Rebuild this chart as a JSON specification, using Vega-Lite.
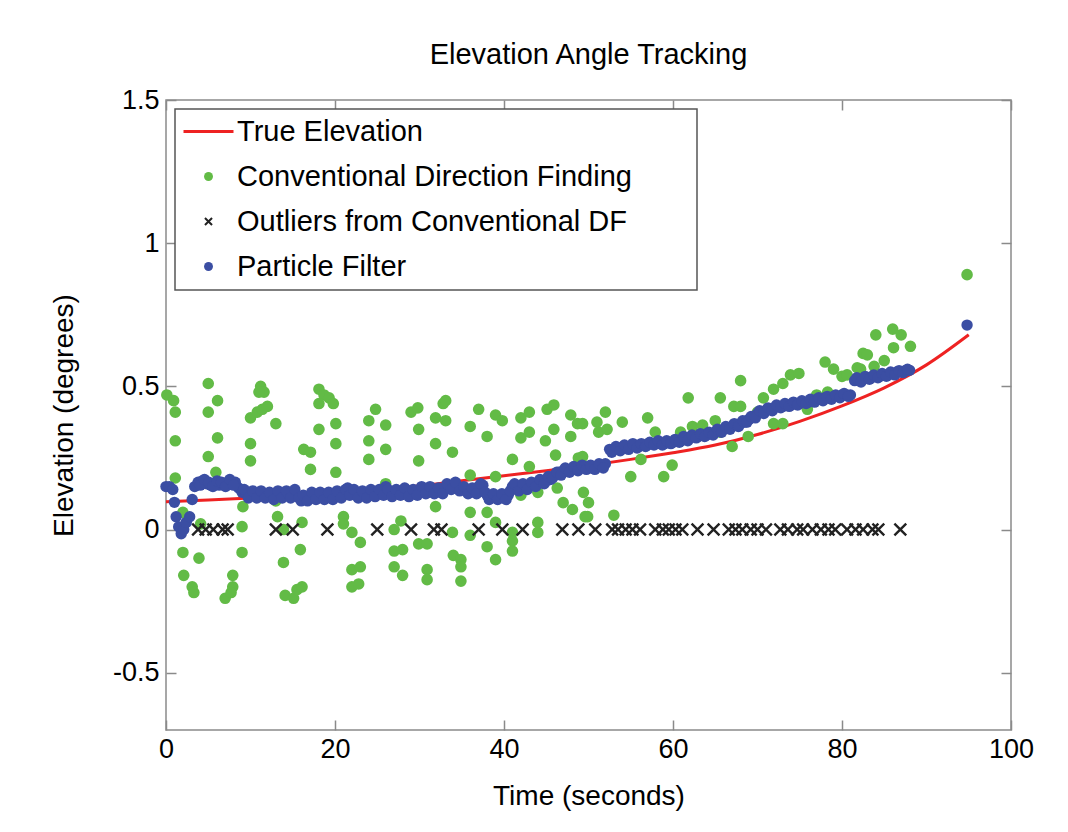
{
  "$schema": "https://vega.github.io/schema/vega-lite/v6.json",
  "width": 845,
  "height": 630,
  "autosize": {"type": "none"},
  "padding": {"left": 166, "top": 100, "right": 57, "bottom": 102},
  "background": "white",
  "title": {"text": "Elevation Angle Tracking", "font": "Liberation Sans", "fontSize": 29, "fontWeight": "normal", "color": "black", "offset": 16},
  "config": {
    "view": {"stroke": "#8a8a8a", "strokeWidth": 1.5},
    "font": "Liberation Sans",
    "legend": {
      "orient": "top-left", "offset": 9, "padding": 8, "strokeColor": "#555555", "strokeWidth": 1.5, "fillColor": "white",
      "labelFont": "Liberation Sans", "labelFontSize": 29, "labelColor": "black", "labelOffset": 14, "symbolOffset": 11,
      "rowPadding": 15, "labelLimit": 0
    }
  },
  "datasets": {
    "truth": [
      {"t": 0, "y": 0.097}, {"t": 5, "y": 0.103}, {"t": 10, "y": 0.11}, {"t": 15, "y": 0.118}, {"t": 20, "y": 0.127},
      {"t": 25, "y": 0.139}, {"t": 30, "y": 0.153}, {"t": 35, "y": 0.17}, {"t": 40, "y": 0.188}, {"t": 45, "y": 0.205},
      {"t": 50, "y": 0.224}, {"t": 55, "y": 0.245}, {"t": 60, "y": 0.268}, {"t": 65, "y": 0.295}, {"t": 70, "y": 0.332},
      {"t": 75, "y": 0.378}, {"t": 80, "y": 0.432}, {"t": 85, "y": 0.495}, {"t": 90, "y": 0.575}, {"t": 95, "y": 0.68}
    ],
    "cdf": [
      {"t": 0.1, "y": 0.47}, {"t": 0.9, "y": 0.45}, {"t": 1.1, "y": 0.41}, {"t": 1.1, "y": 0.31}, {"t": 1.1, "y": 0.18},
      {"t": 2.0, "y": 0.06}, {"t": 2.0, "y": -0.08}, {"t": 2.1, "y": -0.16}, {"t": 3.1, "y": -0.2}, {"t": 3.3, "y": -0.22},
      {"t": 4.1, "y": 0.02}, {"t": 3.9, "y": -0.1}, {"t": 5.0, "y": 0.51}, {"t": 6.1, "y": 0.45}, {"t": 5.0, "y": 0.41},
      {"t": 6.1, "y": 0.32}, {"t": 5.0, "y": 0.255}, {"t": 5.9, "y": 0.2}, {"t": 7.0, "y": -0.24}, {"t": 7.9, "y": -0.16},
      {"t": 7.9, "y": -0.2}, {"t": 7.7, "y": -0.22}, {"t": 9.0, "y": 0.01}, {"t": 9.0, "y": -0.08}, {"t": 9.1, "y": 0.08},
      {"t": 10.0, "y": 0.39}, {"t": 10.8, "y": 0.41}, {"t": 11.4, "y": 0.42}, {"t": 12.0, "y": 0.43}, {"t": 11.2, "y": 0.5},
      {"t": 11.6, "y": 0.48}, {"t": 11.0, "y": 0.48}, {"t": 13.0, "y": 0.37}, {"t": 10.0, "y": 0.3}, {"t": 10.0, "y": 0.24},
      {"t": 13.0, "y": 0.1}, {"t": 13.2, "y": 0.045}, {"t": 13.9, "y": 0.0}, {"t": 13.9, "y": -0.115}, {"t": 14.1, "y": -0.23},
      {"t": 15.1, "y": -0.24}, {"t": 15.5, "y": -0.21}, {"t": 15.9, "y": -0.07}, {"t": 16.3, "y": 0.28}, {"t": 18.1, "y": 0.49},
      {"t": 18.7, "y": 0.47}, {"t": 19.3, "y": 0.46}, {"t": 18.1, "y": 0.44}, {"t": 19.8, "y": 0.44}, {"t": 18.1, "y": 0.35},
      {"t": 20.1, "y": 0.37}, {"t": 17.1, "y": 0.27}, {"t": 20.1, "y": 0.3}, {"t": 17.1, "y": 0.21}, {"t": 20.1, "y": 0.2},
      {"t": 16.1, "y": 0.025}, {"t": 16.1, "y": -0.2}, {"t": 21.0, "y": 0.045}, {"t": 21.0, "y": 0.02}, {"t": 22.0, "y": -0.01},
      {"t": 23.0, "y": -0.045}, {"t": 22.0, "y": -0.14}, {"t": 23.0, "y": -0.13}, {"t": 22.0, "y": -0.2}, {"t": 22.8, "y": -0.19},
      {"t": 24.0, "y": 0.38}, {"t": 24.8, "y": 0.42}, {"t": 26.0, "y": 0.365}, {"t": 24.0, "y": 0.31}, {"t": 26.0, "y": 0.28},
      {"t": 24.0, "y": 0.245}, {"t": 26.0, "y": 0.16}, {"t": 27.8, "y": 0.03}, {"t": 27.0, "y": 0.0}, {"t": 27.0, "y": -0.075},
      {"t": 28.0, "y": -0.07}, {"t": 27.0, "y": -0.13}, {"t": 28.0, "y": -0.16}, {"t": 29.0, "y": 0.41}, {"t": 29.8, "y": 0.425},
      {"t": 29.9, "y": 0.35}, {"t": 29.9, "y": 0.24}, {"t": 29.9, "y": -0.05}, {"t": 30.9, "y": -0.05}, {"t": 30.9, "y": -0.14},
      {"t": 30.9, "y": -0.175}, {"t": 31.9, "y": 0.39}, {"t": 31.9, "y": 0.3}, {"t": 31.9, "y": 0.08}, {"t": 32.8, "y": 0.44},
      {"t": 33.1, "y": 0.45}, {"t": 33.1, "y": 0.38}, {"t": 33.9, "y": 0.27}, {"t": 36.0, "y": 0.36}, {"t": 37.0, "y": 0.42},
      {"t": 38.0, "y": 0.325}, {"t": 39.0, "y": 0.4}, {"t": 39.8, "y": 0.38}, {"t": 41.0, "y": 0.245}, {"t": 42.0, "y": 0.39},
      {"t": 43.0, "y": 0.41}, {"t": 42.0, "y": 0.32}, {"t": 43.0, "y": 0.34}, {"t": 43.0, "y": 0.22}, {"t": 45.1, "y": 0.42},
      {"t": 45.9, "y": 0.435}, {"t": 45.9, "y": 0.35}, {"t": 44.9, "y": 0.31}, {"t": 46.1, "y": 0.26}, {"t": 47.9, "y": 0.4},
      {"t": 48.7, "y": 0.37}, {"t": 47.9, "y": 0.325}, {"t": 48.8, "y": 0.25}, {"t": 36.0, "y": 0.19}, {"t": 39.0, "y": 0.185},
      {"t": 42.0, "y": 0.12}, {"t": 44.0, "y": 0.13}, {"t": 46.3, "y": 0.145}, {"t": 47.0, "y": 0.094}, {"t": 36.0, "y": 0.06},
      {"t": 38.0, "y": 0.06}, {"t": 39.0, "y": 0.025}, {"t": 33.9, "y": -0.01}, {"t": 36.0, "y": -0.02}, {"t": 41.0, "y": -0.01},
      {"t": 41.0, "y": -0.04}, {"t": 44.0, "y": 0.025}, {"t": 44.0, "y": -0.01}, {"t": 38.0, "y": -0.06}, {"t": 41.0, "y": -0.075},
      {"t": 39.0, "y": -0.105}, {"t": 34.0, "y": -0.09}, {"t": 34.9, "y": -0.105}, {"t": 34.9, "y": -0.13}, {"t": 34.9, "y": -0.18},
      {"t": 48.1, "y": 0.07}, {"t": 49.6, "y": 0.045}, {"t": 49.3, "y": 0.37}, {"t": 51.0, "y": 0.375}, {"t": 51.2, "y": 0.34},
      {"t": 52.0, "y": 0.41}, {"t": 52.2, "y": 0.35}, {"t": 54.0, "y": 0.375}, {"t": 57.0, "y": 0.39}, {"t": 57.9, "y": 0.34},
      {"t": 61.8, "y": 0.46}, {"t": 60.9, "y": 0.34}, {"t": 62.3, "y": 0.36}, {"t": 63.5, "y": 0.365}, {"t": 65.0, "y": 0.38},
      {"t": 65.6, "y": 0.46}, {"t": 49.3, "y": 0.255}, {"t": 56.2, "y": 0.245}, {"t": 59.9, "y": 0.225}, {"t": 55.0, "y": 0.185},
      {"t": 58.9, "y": 0.185}, {"t": 49.4, "y": 0.13}, {"t": 50.0, "y": 0.094}, {"t": 49.9, "y": 0.045}, {"t": 53.0, "y": 0.05},
      {"t": 68.0, "y": 0.52}, {"t": 67.2, "y": 0.43}, {"t": 68.0, "y": 0.43}, {"t": 71.9, "y": 0.49}, {"t": 73.0, "y": 0.51},
      {"t": 73.9, "y": 0.54}, {"t": 74.9, "y": 0.545}, {"t": 70.7, "y": 0.46}, {"t": 78.0, "y": 0.585}, {"t": 79.0, "y": 0.56},
      {"t": 80.0, "y": 0.535}, {"t": 80.6, "y": 0.54}, {"t": 81.8, "y": 0.565}, {"t": 82.5, "y": 0.615}, {"t": 70.0, "y": 0.41},
      {"t": 71.9, "y": 0.37}, {"t": 73.0, "y": 0.37}, {"t": 75.9, "y": 0.42}, {"t": 77.0, "y": 0.47}, {"t": 78.3, "y": 0.48},
      {"t": 67.0, "y": 0.29}, {"t": 68.9, "y": 0.325}, {"t": 65.6, "y": 0.34}, {"t": 84.0, "y": 0.68}, {"t": 86.0, "y": 0.7},
      {"t": 87.0, "y": 0.68}, {"t": 88.1, "y": 0.64}, {"t": 83.0, "y": 0.61}, {"t": 82.2, "y": 0.56}, {"t": 85.0, "y": 0.59},
      {"t": 86.1, "y": 0.635}, {"t": 83.8, "y": 0.57}, {"t": 94.8, "y": 0.89}
    ],
    "outliers": [
      {"t": 3.8, "y": 0}, {"t": 4.7, "y": 0}, {"t": 5.6, "y": 0}, {"t": 6.7, "y": 0}, {"t": 7.3, "y": 0}, {"t": 13.0, "y": 0},
      {"t": 15.0, "y": 0}, {"t": 19.1, "y": 0}, {"t": 25.0, "y": 0}, {"t": 29.0, "y": 0}, {"t": 31.7, "y": 0}, {"t": 32.6, "y": 0},
      {"t": 37.0, "y": 0}, {"t": 39.8, "y": 0}, {"t": 42.2, "y": 0}, {"t": 46.9, "y": 0}, {"t": 48.8, "y": 0}, {"t": 50.8, "y": 0},
      {"t": 52.8, "y": 0}, {"t": 53.5, "y": 0}, {"t": 54.4, "y": 0}, {"t": 55.2, "y": 0}, {"t": 56.1, "y": 0}, {"t": 57.9, "y": 0},
      {"t": 58.8, "y": 0}, {"t": 59.5, "y": 0}, {"t": 60.3, "y": 0}, {"t": 61.1, "y": 0}, {"t": 62.9, "y": 0}, {"t": 64.8, "y": 0},
      {"t": 66.6, "y": 0}, {"t": 67.4, "y": 0}, {"t": 68.2, "y": 0}, {"t": 69.2, "y": 0}, {"t": 70.0, "y": 0}, {"t": 71.0, "y": 0},
      {"t": 72.7, "y": 0}, {"t": 73.6, "y": 0}, {"t": 74.7, "y": 0}, {"t": 75.4, "y": 0}, {"t": 76.5, "y": 0}, {"t": 77.5, "y": 0},
      {"t": 78.4, "y": 0}, {"t": 79.2, "y": 0}, {"t": 80.6, "y": 0}, {"t": 81.6, "y": 0}, {"t": 82.5, "y": 0}, {"t": 83.6, "y": 0},
      {"t": 84.3, "y": 0}, {"t": 86.9, "y": 0}
    ],
    "pf": [
      {"t": 0, "y": 0.15}, {"t": 0.4, "y": 0.15}, {"t": 0.8, "y": 0.14}, {"t": 1.0, "y": 0.095}, {"t": 1.2, "y": 0.045},
      {"t": 1.5, "y": 0.01}, {"t": 1.8, "y": -0.015}, {"t": 2.1, "y": 0.0}, {"t": 2.4, "y": 0.025}, {"t": 2.8, "y": 0.045},
      {"t": 3.1, "y": 0.105}, {"t": 3.4, "y": 0.15}, {"t": 3.8, "y": 0.165}, {"t": 4.3, "y": 0.17}, {"t": 4.8, "y": 0.16},
      {"t": 5.3, "y": 0.155}, {"t": 5.8, "y": 0.16}, {"t": 6.3, "y": 0.155}, {"t": 6.8, "y": 0.16}, {"t": 7.3, "y": 0.165},
      {"t": 7.8, "y": 0.16}, {"t": 8.2, "y": 0.165}, {"t": 8.6, "y": 0.145}, {"t": 9.0, "y": 0.13}, {"t": 9.5, "y": 0.125},
      {"t": 10, "y": 0.12}, {"t": 10.5, "y": 0.125}, {"t": 11, "y": 0.12}, {"t": 11.5, "y": 0.125}, {"t": 12, "y": 0.12},
      {"t": 12.5, "y": 0.115}, {"t": 13, "y": 0.125}, {"t": 13.5, "y": 0.12}, {"t": 14, "y": 0.125}, {"t": 14.5, "y": 0.12},
      {"t": 15, "y": 0.13}, {"t": 15.5, "y": 0.12}, {"t": 16, "y": 0.1}, {"t": 16.5, "y": 0.11}, {"t": 17, "y": 0.115},
      {"t": 17.5, "y": 0.12}, {"t": 18, "y": 0.115}, {"t": 18.5, "y": 0.12}, {"t": 19, "y": 0.12}, {"t": 19.5, "y": 0.115},
      {"t": 20, "y": 0.12}, {"t": 20.5, "y": 0.125}, {"t": 21, "y": 0.13}, {"t": 21.5, "y": 0.145}, {"t": 22, "y": 0.13},
      {"t": 22.5, "y": 0.12}, {"t": 23, "y": 0.125}, {"t": 23.5, "y": 0.12}, {"t": 24, "y": 0.125}, {"t": 24.5, "y": 0.13},
      {"t": 25, "y": 0.125}, {"t": 25.5, "y": 0.13}, {"t": 26, "y": 0.15}, {"t": 26.5, "y": 0.13}, {"t": 27, "y": 0.125},
      {"t": 27.5, "y": 0.13}, {"t": 28, "y": 0.135}, {"t": 28.5, "y": 0.13}, {"t": 29, "y": 0.125}, {"t": 29.5, "y": 0.13},
      {"t": 30, "y": 0.135}, {"t": 30.5, "y": 0.14}, {"t": 31, "y": 0.13}, {"t": 31.5, "y": 0.14}, {"t": 32, "y": 0.13},
      {"t": 32.5, "y": 0.135}, {"t": 33, "y": 0.14}, {"t": 33.5, "y": 0.15}, {"t": 34, "y": 0.155}, {"t": 34.5, "y": 0.15},
      {"t": 35, "y": 0.14}, {"t": 35.5, "y": 0.135}, {"t": 36, "y": 0.13}, {"t": 36.5, "y": 0.135}, {"t": 37, "y": 0.15},
      {"t": 37.5, "y": 0.155}, {"t": 38, "y": 0.12}, {"t": 38.5, "y": 0.115}, {"t": 39, "y": 0.115}, {"t": 39.5, "y": 0.115},
      {"t": 40, "y": 0.11}, {"t": 40.5, "y": 0.12}, {"t": 41, "y": 0.15}, {"t": 41.5, "y": 0.145}, {"t": 42, "y": 0.145},
      {"t": 42.5, "y": 0.15}, {"t": 43, "y": 0.155}, {"t": 43.5, "y": 0.16}, {"t": 44, "y": 0.165}, {"t": 44.5, "y": 0.17},
      {"t": 45, "y": 0.17}, {"t": 45.5, "y": 0.175}, {"t": 46, "y": 0.19}, {"t": 46.5, "y": 0.2}, {"t": 47, "y": 0.205},
      {"t": 47.5, "y": 0.21}, {"t": 48, "y": 0.21}, {"t": 48.5, "y": 0.215}, {"t": 49, "y": 0.215}, {"t": 49.5, "y": 0.22},
      {"t": 50, "y": 0.215}, {"t": 50.5, "y": 0.215}, {"t": 51, "y": 0.22}, {"t": 51.5, "y": 0.225}, {"t": 52, "y": 0.23},
      {"t": 52.5, "y": 0.28}, {"t": 53, "y": 0.28}, {"t": 53.5, "y": 0.285}, {"t": 54, "y": 0.285}, {"t": 54.5, "y": 0.285},
      {"t": 55, "y": 0.29}, {"t": 55.5, "y": 0.29}, {"t": 56, "y": 0.29}, {"t": 56.5, "y": 0.295}, {"t": 57, "y": 0.295},
      {"t": 57.5, "y": 0.3}, {"t": 58, "y": 0.3}, {"t": 58.5, "y": 0.3}, {"t": 59, "y": 0.3}, {"t": 59.5, "y": 0.305},
      {"t": 60, "y": 0.305}, {"t": 60.5, "y": 0.31}, {"t": 61, "y": 0.31}, {"t": 61.5, "y": 0.32}, {"t": 62, "y": 0.32},
      {"t": 62.5, "y": 0.325}, {"t": 63, "y": 0.325}, {"t": 63.5, "y": 0.33}, {"t": 64, "y": 0.33}, {"t": 64.5, "y": 0.335},
      {"t": 65, "y": 0.34}, {"t": 65.5, "y": 0.345}, {"t": 66, "y": 0.35}, {"t": 66.5, "y": 0.355}, {"t": 67, "y": 0.36},
      {"t": 67.5, "y": 0.365}, {"t": 68, "y": 0.37}, {"t": 68.5, "y": 0.375}, {"t": 69, "y": 0.385}, {"t": 69.5, "y": 0.395},
      {"t": 70, "y": 0.405}, {"t": 70.5, "y": 0.41}, {"t": 71, "y": 0.415}, {"t": 71.5, "y": 0.42}, {"t": 72, "y": 0.425},
      {"t": 72.5, "y": 0.43}, {"t": 73, "y": 0.43}, {"t": 73.5, "y": 0.435}, {"t": 74, "y": 0.435}, {"t": 74.5, "y": 0.44},
      {"t": 75, "y": 0.44}, {"t": 75.5, "y": 0.445}, {"t": 76, "y": 0.445}, {"t": 76.5, "y": 0.45}, {"t": 77, "y": 0.455},
      {"t": 77.5, "y": 0.455}, {"t": 78, "y": 0.46}, {"t": 78.5, "y": 0.46}, {"t": 79, "y": 0.465}, {"t": 79.5, "y": 0.465},
      {"t": 80, "y": 0.47}, {"t": 80.5, "y": 0.47}, {"t": 81, "y": 0.47}, {"t": 81.5, "y": 0.52}, {"t": 82, "y": 0.52},
      {"t": 82.5, "y": 0.525}, {"t": 83, "y": 0.53}, {"t": 83.5, "y": 0.53}, {"t": 84, "y": 0.535}, {"t": 84.5, "y": 0.535},
      {"t": 85, "y": 0.54}, {"t": 85.5, "y": 0.54}, {"t": 86, "y": 0.545}, {"t": 86.5, "y": 0.55}, {"t": 87, "y": 0.55},
      {"t": 87.5, "y": 0.555}, {"t": 88, "y": 0.556}, {"t": 94.8, "y": 0.714},
      {"t": 4.05, "y": 0.155}, {"t": 4.55, "y": 0.175}, {"t": 5.05, "y": 0.165}, {"t": 5.55, "y": 0.15}, {"t": 6.05, "y": 0.17},
      {"t": 6.55, "y": 0.165}, {"t": 7.05, "y": 0.15}, {"t": 7.55, "y": 0.175}, {"t": 8.0, "y": 0.155},
      {"t": 9.25, "y": 0.14}, {"t": 9.75, "y": 0.11}, {"t": 10.25, "y": 0.135}, {"t": 10.75, "y": 0.11}, {"t": 11.25, "y": 0.135},
      {"t": 11.75, "y": 0.11}, {"t": 12.25, "y": 0.13}, {"t": 12.75, "y": 0.105}, {"t": 13.25, "y": 0.135}, {"t": 13.75, "y": 0.11},
      {"t": 14.25, "y": 0.135}, {"t": 14.75, "y": 0.11}, {"t": 15.25, "y": 0.14}, {"t": 15.75, "y": 0.11}, {"t": 16.25, "y": 0.12},
      {"t": 16.75, "y": 0.1}, {"t": 17.25, "y": 0.13}, {"t": 17.75, "y": 0.105}, {"t": 18.25, "y": 0.13}, {"t": 18.75, "y": 0.105},
      {"t": 19.25, "y": 0.13}, {"t": 19.75, "y": 0.105}, {"t": 20.25, "y": 0.135}, {"t": 20.75, "y": 0.11}, {"t": 21.25, "y": 0.14},
      {"t": 21.75, "y": 0.12}, {"t": 22.25, "y": 0.14}, {"t": 22.75, "y": 0.11}, {"t": 23.25, "y": 0.135}, {"t": 23.75, "y": 0.11},
      {"t": 24.25, "y": 0.14}, {"t": 24.75, "y": 0.115}, {"t": 25.25, "y": 0.14}, {"t": 25.75, "y": 0.12}, {"t": 26.25, "y": 0.14},
      {"t": 26.75, "y": 0.115}, {"t": 27.25, "y": 0.14}, {"t": 27.75, "y": 0.12}, {"t": 28.25, "y": 0.145}, {"t": 28.75, "y": 0.115},
      {"t": 29.25, "y": 0.14}, {"t": 29.75, "y": 0.12}, {"t": 30.25, "y": 0.15}, {"t": 30.75, "y": 0.125}, {"t": 31.25, "y": 0.15},
      {"t": 31.75, "y": 0.125}, {"t": 32.25, "y": 0.145}, {"t": 32.75, "y": 0.125}, {"t": 33.25, "y": 0.16}, {"t": 33.75, "y": 0.14},
      {"t": 34.25, "y": 0.165}, {"t": 34.75, "y": 0.135}, {"t": 35.25, "y": 0.15}, {"t": 35.75, "y": 0.125}, {"t": 36.25, "y": 0.145},
      {"t": 36.75, "y": 0.125}, {"t": 37.25, "y": 0.16}, {"t": 37.75, "y": 0.13}, {"t": 38.25, "y": 0.105}, {"t": 38.75, "y": 0.125},
      {"t": 39.25, "y": 0.105}, {"t": 39.75, "y": 0.125}, {"t": 40.25, "y": 0.105}, {"t": 40.75, "y": 0.135}, {"t": 41.25, "y": 0.16},
      {"t": 41.75, "y": 0.135}, {"t": 42.25, "y": 0.16}, {"t": 42.75, "y": 0.14}, {"t": 43.25, "y": 0.165}, {"t": 43.75, "y": 0.15},
      {"t": 44.25, "y": 0.175}, {"t": 44.75, "y": 0.16}, {"t": 45.25, "y": 0.185}, {"t": 45.75, "y": 0.18}, {"t": 46.25, "y": 0.2},
      {"t": 46.75, "y": 0.19}, {"t": 47.25, "y": 0.215}, {"t": 47.75, "y": 0.2}, {"t": 48.25, "y": 0.22}, {"t": 48.75, "y": 0.205},
      {"t": 49.25, "y": 0.225}, {"t": 49.75, "y": 0.21}, {"t": 50.25, "y": 0.225}, {"t": 50.75, "y": 0.21}, {"t": 51.25, "y": 0.23},
      {"t": 51.75, "y": 0.215}, {"t": 52.75, "y": 0.27}, {"t": 53.25, "y": 0.29}, {"t": 53.75, "y": 0.275}, {"t": 54.25, "y": 0.295},
      {"t": 54.75, "y": 0.28}, {"t": 55.25, "y": 0.3}, {"t": 55.75, "y": 0.285}, {"t": 56.25, "y": 0.3}, {"t": 56.75, "y": 0.29},
      {"t": 57.25, "y": 0.305}, {"t": 57.75, "y": 0.295}, {"t": 58.25, "y": 0.31}, {"t": 58.75, "y": 0.295}, {"t": 59.25, "y": 0.31},
      {"t": 59.75, "y": 0.3}, {"t": 60.25, "y": 0.315}, {"t": 60.75, "y": 0.305}, {"t": 61.25, "y": 0.325}, {"t": 61.75, "y": 0.31},
      {"t": 62.25, "y": 0.33}, {"t": 62.75, "y": 0.32}, {"t": 63.25, "y": 0.335}, {"t": 63.75, "y": 0.325}, {"t": 64.25, "y": 0.34},
      {"t": 64.75, "y": 0.33}, {"t": 65.25, "y": 0.35}, {"t": 65.75, "y": 0.34}, {"t": 66.25, "y": 0.36}, {"t": 66.75, "y": 0.35},
      {"t": 67.25, "y": 0.37}, {"t": 67.75, "y": 0.36}, {"t": 68.25, "y": 0.38}, {"t": 68.75, "y": 0.375}, {"t": 69.25, "y": 0.395},
      {"t": 69.75, "y": 0.39}, {"t": 70.25, "y": 0.415}, {"t": 70.75, "y": 0.405}, {"t": 71.25, "y": 0.425}, {"t": 71.75, "y": 0.415},
      {"t": 72.25, "y": 0.435}, {"t": 72.75, "y": 0.425}, {"t": 73.25, "y": 0.44}, {"t": 73.75, "y": 0.43}, {"t": 74.25, "y": 0.445},
      {"t": 74.75, "y": 0.435}, {"t": 75.25, "y": 0.45}, {"t": 75.75, "y": 0.44}, {"t": 76.25, "y": 0.455}, {"t": 76.75, "y": 0.445},
      {"t": 77.25, "y": 0.46}, {"t": 77.75, "y": 0.45}, {"t": 78.25, "y": 0.465}, {"t": 78.75, "y": 0.455}, {"t": 79.25, "y": 0.47},
      {"t": 79.75, "y": 0.46}, {"t": 80.25, "y": 0.475}, {"t": 80.75, "y": 0.465}, {"t": 81.75, "y": 0.53}, {"t": 82.25, "y": 0.515},
      {"t": 82.75, "y": 0.535}, {"t": 83.25, "y": 0.525}, {"t": 83.75, "y": 0.54}, {"t": 84.25, "y": 0.53}, {"t": 84.75, "y": 0.545},
      {"t": 85.25, "y": 0.535}, {"t": 85.75, "y": 0.55}, {"t": 86.25, "y": 0.54}, {"t": 86.75, "y": 0.555}, {"t": 87.25, "y": 0.548},
      {"t": 87.75, "y": 0.56}
    ]
  },
  "resolve": {"axis": {"x": "independent", "y": "independent"}},
  "layer": [
    {
      "data": {"name": "truth"},
      "mark": {"type": "line", "strokeWidth": 3, "interpolate": "monotone"},
      "encoding": {
        "x": {"field": "t", "type": "quantitative", "scale": {"domain": [0, 100], "nice": false, "zero": false},
          "axis": {"orient": "bottom", "values": [0, 20, 40, 60, 80, 100], "ticks": false, "domain": false, "grid": false, "labelFlush": false,
            "labelFont": "Liberation Sans", "labelFontSize": 27, "labelColor": "black", "labelPadding": 6,
            "title": "Time (seconds)", "titleFont": "Liberation Sans", "titleFontSize": 28, "titleFontWeight": "normal", "titleColor": "black", "titlePadding": 20}},
        "y": {"field": "y", "type": "quantitative", "scale": {"domain": [-0.7, 1.5], "nice": false, "zero": false},
          "axis": {"orient": "left", "values": [-0.5, 0, 0.5, 1, 1.5], "labelExpr": "'' + datum.value", "ticks": false, "domain": false, "grid": false, "labelFlush": false,
            "labelFont": "Liberation Sans", "labelFontSize": 27, "labelColor": "black", "labelPadding": 7,
            "title": "Elevation (degrees)", "titleFont": "Liberation Sans", "titleFontSize": 28, "titleFontWeight": "normal", "titleColor": "black", "titlePadding": 34}},
        "color": {"datum": "True Elevation", "type": "nominal",
          "scale": {"domain": ["True Elevation", "Conventional Direction Finding", "Outliers from Conventional DF", "Particle Filter"],
            "range": ["#ee2222", "#62bb46", "#222222", "#3b4ea3"]},
          "legend": {"title": "\u2800", "titleOrient": "right", "titleFontSize": 1, "titlePadding": 56,
            "encode": {
              "symbols": {"update": {
              "shape": {"scale": "shape", "field": "value"},
              "fill": {"scale": "color", "field": "value"},
              "stroke": {"scale": "color", "field": "value"},
              "strokeWidth": {"signal": "datum.value === 'True Elevation' ? 3 : (datum.value === 'Outliers from Conventional DF' ? 2 : 0)"},
              "size": {"signal": "datum.value === 'True Elevation' ? 400 : (datum.value === 'Outliers from Conventional DF' ? 50 : 80)"},
              "opacity": {"value": 1}
            }}}}}
      }
    },
    {
      "data": {"name": "cdf"},
      "mark": {"type": "point", "filled": true, "size": 135, "opacity": 1},
      "encoding": {
        "x": {"field": "t", "type": "quantitative",
          "axis": {"orient": "bottom", "offset": -10, "tickSize": 10, "labels": false, "domain": false, "grid": false, "title": null,
            "values": [0, 20, 40, 60, 80, 100], "tickColor": "#8a8a8a", "tickWidth": 1.5}},
        "y": {"field": "y", "type": "quantitative",
          "axis": {"orient": "left", "offset": -10, "tickSize": 10, "labels": false, "domain": false, "grid": false, "title": null,
            "values": [-0.5, 0, 0.5, 1, 1.5], "tickColor": "#8a8a8a", "tickWidth": 1.5}},
        "color": {"datum": "Conventional Direction Finding", "type": "nominal"},
        "shape": {"datum": "Conventional Direction Finding", "type": "nominal",
          "scale": {"domain": ["True Elevation", "Conventional Direction Finding", "Outliers from Conventional DF", "Particle Filter"],
            "range": ["M-2.5,0H2.5", "circle", "M-1,-1L1,1M1,-1L-1,1", "circle"]},
          "legend": null}
      }
    },
    {
      "data": {"name": "outliers"},
      "mark": {"type": "point", "filled": false, "size": 140, "strokeWidth": 2.4, "opacity": 1},
      "encoding": {
        "x": {"field": "t", "type": "quantitative",
          "axis": {"orient": "top", "offset": -10, "tickSize": 10, "labels": false, "domain": false, "grid": false, "title": null,
            "values": [0, 20, 40, 60, 80, 100], "tickColor": "#8a8a8a", "tickWidth": 1.5}},
        "y": {"field": "y", "type": "quantitative",
          "axis": {"orient": "right", "offset": -10, "tickSize": 10, "labels": false, "domain": false, "grid": false, "title": null,
            "values": [-0.5, 0, 0.5, 1, 1.5], "tickColor": "#8a8a8a", "tickWidth": 1.5}},
        "color": {"datum": "Outliers from Conventional DF", "type": "nominal"},
        "shape": {"datum": "Outliers from Conventional DF", "type": "nominal", "legend": null}
      }
    },
    {
      "data": {"name": "pf"},
      "mark": {"type": "point", "filled": true, "size": 130, "opacity": 1},
      "encoding": {
        "x": {"field": "t", "type": "quantitative", "axis": null},
        "y": {"field": "y", "type": "quantitative", "axis": null},
        "color": {"datum": "Particle Filter", "type": "nominal"},
        "shape": {"datum": "Particle Filter", "type": "nominal", "legend": null}
      }
    }
  ]
}
